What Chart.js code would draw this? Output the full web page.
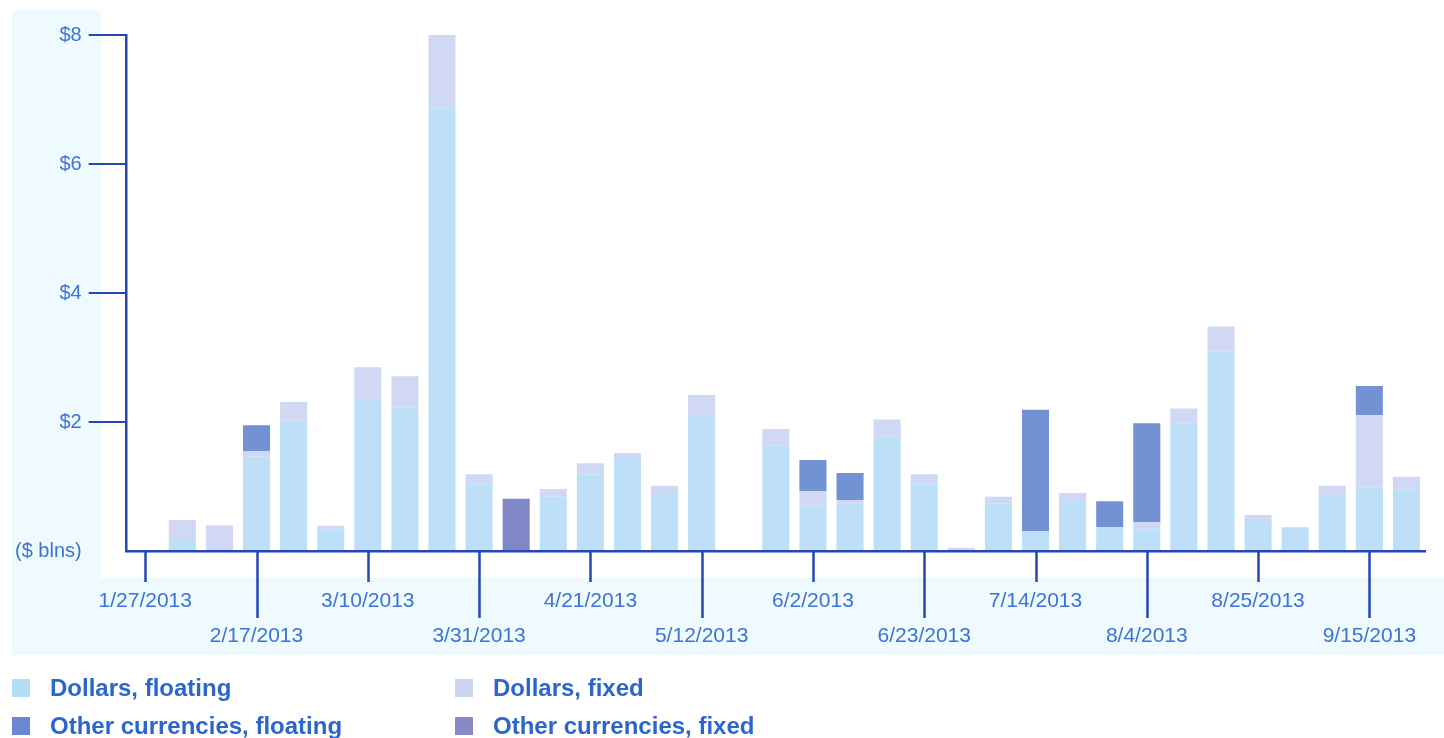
<!DOCTYPE html>
<html>
<head>
<meta charset="utf-8">
<script src="https://cdn.jsdelivr.net/npm/chart.js@4.4.0/dist/chart.umd.min.js"></script>
<style>
  html, body { margin: 0; padding: 0; background: #fff; }
  #wrap { position: relative; width: 1444px; height: 738px; overflow: hidden; background: #fff; }
  #chartBox { position: absolute; left: 0; top: 0; width: 1444px; height: 683px; }
  #legend { position: absolute; left: 0; top: 0; width: 1444px; height: 738px; pointer-events: none;
            font-family: 'Liberation Sans', Arial, sans-serif; font-weight: bold; font-size: 24px; color: #2b66cf; }
  .item { position: absolute; height: 30px; line-height: 30px; white-space: nowrap; }
  .sw { position: absolute; left: 0; top: 6px; width: 18px; height: 18px; }
  .txt { position: absolute; left: 38px; top: 0; }
</style>
</head>
<body>
<div id="wrap">
  <div id="chartBox"><canvas id="chartIssuance"></canvas></div>
  <div id="legend"></div>
</div>
<script>
var weeks = ['1/27/2013', '2/3/2013', '2/10/2013', '2/17/2013', '2/24/2013', '3/3/2013', '3/10/2013',
    '3/17/2013', '3/24/2013', '3/31/2013', '4/7/2013', '4/14/2013', '4/21/2013', '4/28/2013', '5/5/2013',
    '5/12/2013', '5/19/2013', '5/26/2013', '6/2/2013', '6/9/2013', '6/16/2013', '6/23/2013', '6/30/2013',
    '7/7/2013', '7/14/2013', '7/21/2013', '7/28/2013', '8/4/2013', '8/11/2013', '8/18/2013', '8/25/2013',
    '9/1/2013', '9/8/2013', '9/15/2013', '9/22/2013'];

var dollarsFloating = [0, 0.17, 0, 1.46, 2.02, 0.33, 2.34, 2.23, 6.88, 1.05, 0, 0.84, 1.19, 1.44, 0.90,
    2.11, 0, 1.64, 0.70, 0.74, 1.78, 1.05, 0, 0.74, 0.31, 0.76, 0.37, 0.33, 1.98, 3.09, 0.45, 0.37, 0.87, 0.99, 0.95];
var dollarsFixed = [0, 0.31, 0.40, 0.09, 0.29, 0.06, 0.51, 0.48, 1.12, 0.14, 0, 0.12, 0.17, 0.08, 0.11,
    0.31, 0, 0.25, 0.23, 0.05, 0.26, 0.14, 0.05, 0.10, 0, 0.14, 0, 0.12, 0.23, 0.39, 0.11, 0, 0.14, 1.12, 0.20];
var otherFloating = [0, 0, 0, 0.40, 0, 0, 0, 0, 0, 0, 0, 0, 0, 0, 0,
    0, 0, 0, 0.48, 0.42, 0, 0, 0, 0, 1.88, 0, 0.40, 1.53, 0, 0, 0, 0, 0, 0.45, 0];
var otherFixed = [0, 0, 0, 0, 0, 0, 0, 0, 0, 0, 0.81, 0, 0, 0, 0,
    0, 0, 0, 0, 0, 0, 0, 0, 0, 0, 0, 0, 0, 0, 0, 0, 0, 0, 0, 0];

var yTicks = [0, 2, 4, 6, 8];

var axisColor = '#2547b5';
var tickText = '#3d72d9';

var series = [
    { label: 'Dollars, floating', data: dollarsFloating, color: '#bde0f8', swatch: '#b5dcf5' },
    { label: 'Dollars, fixed', data: dollarsFixed, color: '#d0d8f3', swatch: '#cbd3f0' },
    { label: 'Other currencies, floating', data: otherFloating, color: '#7292d4', swatch: '#6a88cf' },
    { label: 'Other currencies, fixed', data: otherFixed, color: '#8087c6', swatch: '#8689c4' },
];

// pale panel behind axis labels
var panelBg = {
    id: 'panelBg',
    beforeDraw: function (chart) {
        var c = chart.ctx, a = chart.chartArea;
        c.save();
        c.fillStyle = '#eefafd';
        c.fillRect(12, 10, chart.width - 12, 645);
        c.fillStyle = '#ffffff';
        c.fillRect(a.left - 26, 0, chart.width, a.bottom + 27);
        c.restore();
    }
};

// x tick marks: alternate short / long
var xMarks = {
    id: 'xMarks',
    afterDraw: function (chart) {
        var c = chart.ctx, x = chart.scales.x, a = chart.chartArea;
        c.save();
        c.strokeStyle = axisColor;
        c.lineWidth = 2.5;
        for (var i = 0; i < weeks.length; i += 3) {
            var px = Math.round(x.getPixelForTick(i)) + 0.5;
            var len = (i / 3) % 2 === 0 ? 31 : 67;
            c.beginPath();
            c.moveTo(px, a.bottom);
            c.lineTo(px, a.bottom + len);
            c.stroke();
        }
        c.restore();
    }
};

var ctx = document.getElementById('chartIssuance');
new Chart(ctx.getContext('2d'), {
    type: 'bar',
    data: {
        labels: weeks,
        datasets: series.map(function (s) {
            return {
                label: s.label,
                data: s.data,
                backgroundColor: s.color,
                borderWidth: 0,
                barPercentage: 0.73,
                categoryPercentage: 1,
            };
        }),
    },
    options: {
        responsive: true,
        maintainAspectRatio: false,
        animation: false,
        layout: { padding: { left: 8, right: 19, top: 35, bottom: 4 } },
        plugins: {
            legend: { display: false },
            tooltip: { enabled: false },
        },
        scales: {
            x: {
                stacked: true,
                grid: { display: false },
                border: { color: axisColor, width: 2.5 },
                ticks: {
                    autoSkip: false,
                    maxRotation: 0,
                    padding: 25,
                    color: tickText,
                    font: { family: "'Liberation Sans', Arial, sans-serif", size: 21, lineHeight: 35 / 21 },
                    callback: function (v, i) {
                        if (i % 3 !== 0) return '';
                        return (i / 3) % 2 === 0 ? weeks[i] : ['', weeks[i]];
                    },
                },
            },
            y: {
                stacked: true,
                min: 0,
                max: 8,
                afterBuildTicks: function (axis) {
                    axis.ticks = yTicks.map(function (v) { return { value: v }; });
                },
                grid: {
                    drawOnChartArea: false,
                    tickLength: 38,
                    lineWidth: 2,
                    color: function (c) { return c.tick && c.tick.value === 0 ? 'rgba(0,0,0,0)' : axisColor; },
                },
                border: { color: axisColor, width: 2.5 },
                ticks: {
                    padding: 7,
                    color: tickText,
                    font: { family: "'Liberation Sans', Arial, sans-serif", size: 20 },
                    callback: function (v) { return v === 0 ? '($ blns)' : '$' + v; },
                },
            },
        },
    },
    plugins: [panelBg, xMarks],
});

// two-column legend under the chart
var legend = document.getElementById('legend');
var slots = [[12, 673], [455, 673], [12, 711], [455, 711]];
series.forEach(function (s, i) {
    var d = document.createElement('div');
    d.className = 'item';
    d.style.left = slots[i][0] + 'px';
    d.style.top = slots[i][1] + 'px';
    d.innerHTML = '<span class="sw" style="background:' + s.swatch + '"></span><span class="txt">' + s.label + '</span>';
    legend.appendChild(d);
});
</script>
</body>
</html>
